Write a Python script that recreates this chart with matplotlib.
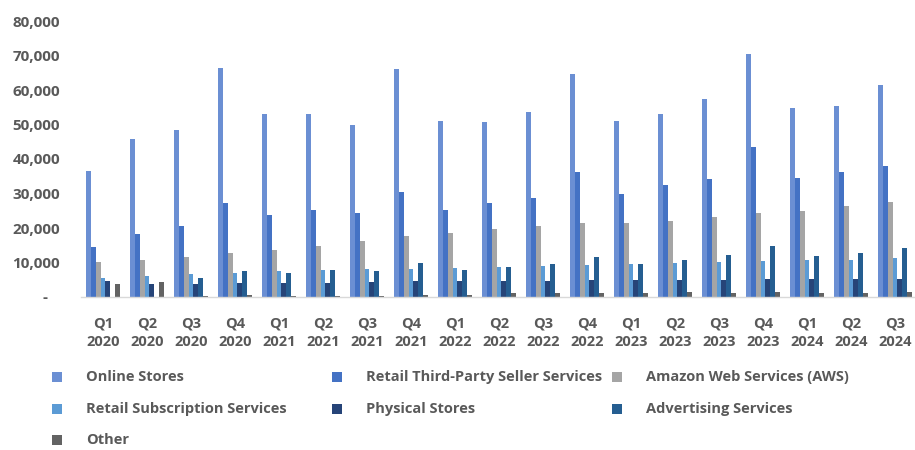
import numpy as np
import matplotlib
matplotlib.use("Agg")
import matplotlib.pyplot as plt
from matplotlib.patches import Rectangle
from matplotlib.ticker import FuncFormatter

plt.rcParams['font.family'] = ['Open Sans', 'DejaVu Sans']

quarters = ["Q1\n2020", "Q2\n2020", "Q3\n2020", "Q4\n2020",
            "Q1\n2021", "Q2\n2021", "Q3\n2021", "Q4\n2021",
            "Q1\n2022", "Q2\n2022", "Q3\n2022", "Q4\n2022",
            "Q1\n2023", "Q2\n2023", "Q3\n2023", "Q4\n2023",
            "Q1\n2024", "Q2\n2024", "Q3\n2024"]

online_stores = [36652, 45896, 48350, 66451, 52901, 53157, 49942, 66075,
                 51129, 50855, 53489, 64531, 51096, 52966, 57267, 70543,
                 54670, 55392, 61411]
third_party = [14479, 18195, 20436, 27327, 23709, 25085, 24252, 30320,
               25335, 27376, 28666, 36339, 29820, 32332, 34342, 43559,
               34596, 36201, 37864]
aws = [10219, 10808, 11601, 12742, 13503, 14809, 16110, 17780,
       18441, 19739, 20538, 21378, 21354, 22140, 23059, 24204,
       25037, 26281, 27452]
subscription = [5556, 6018, 6572, 7061, 7580, 7917, 8148, 8123,
                8410, 8716, 8903, 9189, 9657, 9894, 10170, 10485,
                10722, 10866, 11278]
physical = [4640, 3774, 3788, 4022, 3920, 4198, 4269, 4688,
            4591, 4721, 4694, 4957, 4895, 5033, 4959, 5152,
            5202, 5206, 5228]
advertising = [np.nan, np.nan, 5400, 7411, 6905, 7914, 7612, 9716,
               7877, 8757, 9548, 11557, 9509, 10683, 12060, 14654,
               11824, 12771, 14331]
other = [3906, 4221, 290, 541, 390, 311, 400, 511,
         661, 1069, 1040, 1267, 1027, 1336, 1226, 1363,
         1262, 1244, 1325]

series_names = ["Online Stores", "Retail Third-Party Seller Services",
                "Amazon Web Services (AWS)", "Retail Subscription Services",
                "Physical Stores", "Advertising Services", "Other"]
series_values = [online_stores, third_party, aws, subscription,
                 physical, advertising, other]
series_colors = ["#6B8FD3", "#4472C4", "#A5A5A5", "#5B9BD5",
                 "#264478", "#255E91", "#636363"]

text_color = "#595959"
W, H = 915, 450

fig = plt.figure(figsize=(W / 100, H / 100), dpi=100)
ax = fig.add_axes([81 / W, 1 - 297 / H, (W - 81) / W, (297 - 21) / H])

x = np.arange(len(quarters))
bar_w = 0.109
n = len(series_values)
for i, (vals, col) in enumerate(zip(series_values, series_colors)):
    offset = (i - (n - 1) / 2) * bar_w
    ax.bar(x + offset, vals, width=bar_w, color=col, linewidth=0)

ax.set_xlim(-0.5, (W - 103) / 44)
ax.set_ylim(0, 80000)
ax.set_yticks(np.arange(0, 80001, 10000))
ax.yaxis.set_major_formatter(FuncFormatter(
    lambda v, _: "-   " if v == 0 else f"{int(v):,}"))
ax.set_xticks(x)
ax.set_xticklabels(quarters, linespacing=1.4)

ax.tick_params(axis='y', length=0, pad=15, labelsize=11, labelcolor=text_color)
ax.tick_params(axis='x', length=0, pad=14, labelsize=10.5, labelcolor=text_color)
for lbl in ax.get_yticklabels() + ax.get_xticklabels():
    lbl.set_fontweight('bold')

for side in ['top', 'right', 'left']:
    ax.spines[side].set_visible(False)
ax.spines['bottom'].set_color('#D9D9D9')
ax.spines['bottom'].set_linewidth(1.0)

# legend laid out in three equal columns beneath the axis labels
col_x = [52, 332, 612]
row_y = [377, 409, 440]
for k, (name, col) in enumerate(zip(series_names, series_colors)):
    r, c = divmod(k, 3)
    mx, my = col_x[c], row_y[r]
    fig.add_artist(Rectangle((mx / W, 1 - (my + 5) / H), 10 / W, 10 / H,
                             transform=fig.transFigure, color=col, lw=0))
    fig.text((mx + 34) / W, 1 - my / H, name, ha='left', va='center',
             fontsize=10.5, fontweight='bold', color=text_color)

fig.savefig("out.png", dpi=100)
